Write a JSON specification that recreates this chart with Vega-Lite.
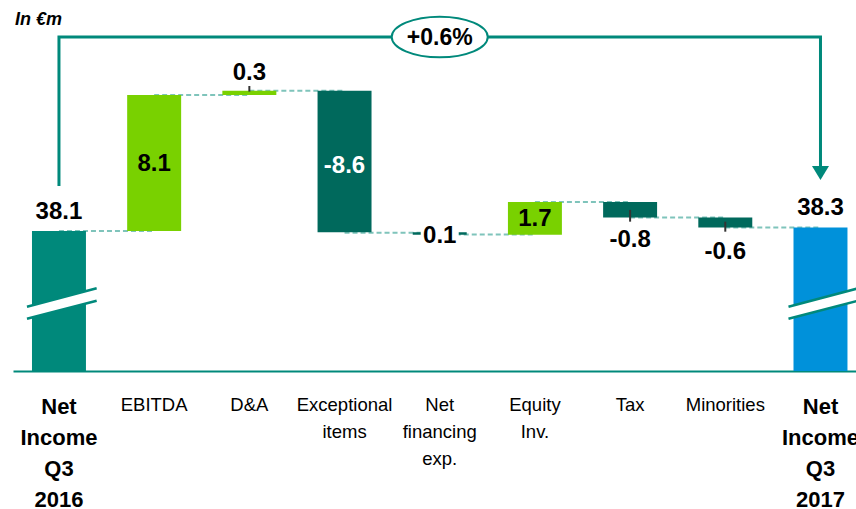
{
  "$schema": "https://vega.github.io/schema/vega-lite/v6.json",
  "width": 843,
  "height": 371,
  "autosize": {"type": "none"},
  "padding": {"left": 13, "top": 0, "right": 0, "bottom": 138},
  "config": {"view": {"stroke": null}},
  "datasets": {
    "bars": [
      {"cat": "Net|Income|Q3|2016", "kind": "start", "y0": 29.865, "y1": 38.1},
      {"cat": "EBITDA", "kind": "up", "y0": 38.1, "y1": 46.1},
      {"cat": "D&A", "kind": "up", "y0": 46.1, "y1": 46.35},
      {"cat": "Exceptional|items", "kind": "down", "y0": 46.35, "y1": 38.02},
      {"cat": "Net|financing|exp.", "kind": "down", "y0": 38.02, "y1": 37.88},
      {"cat": "Equity|Inv.", "kind": "up", "y0": 37.88, "y1": 39.8},
      {"cat": "Tax", "kind": "down", "y0": 39.8, "y1": 38.9},
      {"cat": "Minorities", "kind": "down", "y0": 38.9, "y1": 38.3},
      {"cat": "Net|Income|Q3|2017", "kind": "end", "y0": 29.865, "y1": 38.3}
    ],
    "links": [
      {"cat": "Net|Income|Q3|2016", "to": "EBITDA", "lvl": 38.1},
      {"cat": "EBITDA", "to": "D&A", "lvl": 46.1},
      {"cat": "D&A", "to": "Exceptional|items", "lvl": 46.35},
      {"cat": "Exceptional|items", "to": "Net|financing|exp.", "lvl": 38.0},
      {"cat": "Net|financing|exp.", "to": "Equity|Inv.", "lvl": 37.9},
      {"cat": "Equity|Inv.", "to": "Tax", "lvl": 39.8},
      {"cat": "Tax", "to": "Minorities", "lvl": 38.9},
      {"cat": "Minorities", "to": "Net|Income|Q3|2017", "lvl": 38.3}
    ],
    "labels": [
      {"cat": "Net|Income|Q3|2016", "txt": "38.1", "ly": 39.2, "tone": "dark"},
      {"cat": "EBITDA", "txt": "8.1", "ly": 42.02, "tone": "dark"},
      {"cat": "D&A", "txt": "0.3", "ly": 47.4, "tone": "dark"},
      {"cat": "Exceptional|items", "txt": "-8.6", "ly": 41.9, "tone": "light"},
      {"cat": "Net|financing|exp.", "txt": "0.1", "ly": 37.79, "tone": "dark"},
      {"cat": "Equity|Inv.", "txt": "1.7", "ly": 38.79, "tone": "dark"},
      {"cat": "Tax", "txt": "-0.8", "ly": 37.55, "tone": "dark"},
      {"cat": "Minorities", "txt": "-0.6", "ly": 36.84, "tone": "dark"},
      {"cat": "Net|Income|Q3|2017", "txt": "38.3", "ly": 39.46, "tone": "dark"}
    ],
    "leaders": [
      {"cat": "D&A", "a": 46.63, "b": 46.3},
      {"cat": "Tax", "a": 39.34, "b": 38.65},
      {"cat": "Minorities", "a": 38.65, "b": 38.06}
    ],
    "bracket": [
      {"cat": "Net|Income|Q3|2016", "yb": 40.75, "ord": 1},
      {"cat": "Net|Income|Q3|2016", "yb": 49.51, "ord": 2},
      {"cat": "Net|Income|Q3|2017", "yb": 49.51, "ord": 3},
      {"cat": "Net|Income|Q3|2017", "yb": 41.92, "ord": 4}
    ],
    "arrow": [{"cat": "Net|Income|Q3|2017", "yb": 41.51}],
    "badge": [{"cat": "Net|financing|exp.", "yb": 49.51, "ty": 49.43, "txt": "+0.6%"}],
    "breaks": [
      {"cat": "Net|Income|Q3|2016", "yb": 33.835},
      {"cat": "Net|Income|Q3|2017", "yb": 33.835}
    ],
    "unit": [{"cat": "Net|Income|Q3|2016", "yb": 50.5, "txt": "In €m"}],
    "whitebox": [{"cat": "Net|financing|exp.", "a": 37.69, "b": 38.22}]
  },
  "resolve": {"axis": {"x": "independent"}},
  "layer": [
    {
      "data": {"name": "links"},
      "mark": {"type": "rule", "stroke": "#7FC4BB", "strokeWidth": 2, "strokeDash": [5, 3]},
      "encoding": {
        "x": {"field": "cat", "type": "nominal", "scale": {"type": "band", "domain": ["Net|Income|Q3|2016","EBITDA","D&A","Exceptional|items","Net|financing|exp.","Equity|Inv.","Tax","Minorities","Net|Income|Q3|2017"], "paddingInner": 0.433, "paddingOuter": 0.1445, "align": 0.69},
          "axis": {"orient": "bottom", "title": null, "labelAngle": 0, "labelExpr": "indexof(datum.label, 'Net|Income') === 0 ? split(datum.label, '|') : ''", "labelFont": "Liberation Sans", "labelFontWeight": "bold", "labelFontSize": 22, "labelLineHeight": 31, "labelPadding": 25.4, "labelBaseline": "top", "labelColor": "#000000", "labelOverlap": false, "labelLimit": 0, "ticks": false, "tickSize": 0, "domain": false, "grid": false}},
        "x2": {"field": "to"},
        "y": {"field": "lvl", "type": "quantitative", "scale": {"domain": [29.865, 51.689], "nice": false, "zero": false}, "axis": null}
      }
    },
    {
      "data": {"name": "bars"},
      "mark": {"type": "bar"},
      "encoding": {
        "x": {"field": "cat", "type": "nominal", "scale": {"type": "band", "domain": ["Net|Income|Q3|2016","EBITDA","D&A","Exceptional|items","Net|financing|exp.","Equity|Inv.","Tax","Minorities","Net|Income|Q3|2017"], "paddingInner": 0.433, "paddingOuter": 0.1445, "align": 0.69},
          "axis": {"orient": "bottom", "title": null, "labelAngle": 0, "labelExpr": "indexof(datum.label, 'Net|Income') === 0 ? '' : split(datum.label, '|')", "labelFont": "Liberation Sans", "labelFontSize": 18.5, "labelLineHeight": 27, "labelPadding": 24.5, "labelBaseline": "top", "labelColor": "#000000", "labelOverlap": false, "labelLimit": 0, "ticks": false, "tickSize": 0, "domain": true, "domainColor": "#00897B", "domainWidth": 2, "grid": false}},
        "y": {"field": "y0", "type": "quantitative", "scale": {"domain": [29.865, 51.689], "nice": false, "zero": false}, "axis": null},
        "y2": {"field": "y1"},
        "color": {"field": "kind", "type": "nominal", "scale": {"domain": ["start", "up", "down", "end"], "range": ["#00897B", "#79D100", "#00695C", "#0091DA"]}, "legend": null}
      }
    },
    {
      "data": {"name": "leaders"},
      "mark": {"type": "rule", "stroke": "#333333", "strokeWidth": 2},
      "encoding": {
        "x": {"field": "cat", "type": "nominal", "scale": {"type": "band"}, "axis": null},
        "y": {"field": "a", "type": "quantitative", "scale": {"domain": [29.865, 51.689], "nice": false, "zero": false}, "axis": null},
        "y2": {"field": "b"}
      }
    },
    {
      "data": {"name": "whitebox"},
      "mark": {"type": "bar", "fill": "#ffffff", "width": 38},
      "encoding": {
        "x": {"field": "cat", "type": "nominal", "scale": {"type": "band"}, "axis": null},
        "y": {"field": "a", "type": "quantitative", "scale": {"domain": [29.865, 51.689], "nice": false, "zero": false}, "axis": null},
        "y2": {"field": "b"}
      }
    },
    {
      "data": {"name": "labels"},
      "mark": {"type": "text", "font": "Liberation Sans", "fontWeight": "bold", "fontSize": 24, "align": "center", "baseline": "middle"},
      "encoding": {
        "x": {"field": "cat", "type": "nominal", "scale": {"type": "band"}, "axis": null},
        "y": {"field": "ly", "type": "quantitative", "scale": {"domain": [29.865, 51.689], "nice": false, "zero": false}, "axis": null},
        "text": {"field": "txt"},
        "color": {"condition": {"test": "datum.tone === 'light'", "value": "#ffffff"}, "value": "#000000"}
      }
    },
    {
      "data": {"name": "breaks"},
      "mark": {"type": "point", "shape": "M-0.8,0.08 L0.9425,-0.38 L0.9425,-0.07 L-0.8,0.38 Z", "size": 6400, "filled": true, "fill": "#ffffff", "strokeWidth": 0, "opacity": 1},
      "encoding": {
        "x": {"field": "cat", "type": "nominal", "scale": {"type": "band"}, "axis": null},
        "y": {"field": "yb", "type": "quantitative", "scale": {"domain": [29.865, 51.689], "nice": false, "zero": false}, "axis": null}
      }
    },
    {
      "data": {"name": "breaks"},
      "mark": {"type": "point", "shape": "M-0.8,0.08 L0.9425,-0.38 M-0.8,0.38 L0.9425,-0.07", "size": 6400, "filled": false, "stroke": "#00897B", "strokeWidth": 2.5, "opacity": 1},
      "encoding": {
        "x": {"field": "cat", "type": "nominal", "scale": {"type": "band"}, "axis": null},
        "y": {"field": "yb", "type": "quantitative", "scale": {"domain": [29.865, 51.689], "nice": false, "zero": false}, "axis": null}
      }
    },
    {
      "data": {"name": "bracket"},
      "mark": {"type": "line", "stroke": "#00897B", "strokeWidth": 3, "strokeJoin": "miter"},
      "encoding": {
        "x": {"field": "cat", "type": "nominal", "scale": {"type": "band"}, "axis": null},
        "y": {"field": "yb", "type": "quantitative", "scale": {"domain": [29.865, 51.689], "nice": false, "zero": false}, "axis": null},
        "order": {"field": "ord", "type": "quantitative"}
      }
    },
    {
      "data": {"name": "arrow"},
      "mark": {"type": "point", "shape": "M-1,-0.82 L1,-0.82 L0,0.82 Z", "size": 289, "filled": true, "fill": "#00897B", "strokeWidth": 0, "opacity": 1},
      "encoding": {
        "x": {"field": "cat", "type": "nominal", "scale": {"type": "band"}, "axis": null},
        "y": {"field": "yb", "type": "quantitative", "scale": {"domain": [29.865, 51.689], "nice": false, "zero": false}, "axis": null}
      }
    },
    {
      "data": {"name": "badge"},
      "mark": {"type": "point", "shape": "M-1,0 A1,0.423 0 1,1 1,0 A1,0.423 0 1,1 -1,0 Z", "size": 9216, "filled": true, "fill": "#ffffff", "stroke": "#00897B", "strokeWidth": 2, "opacity": 1},
      "encoding": {
        "x": {"field": "cat", "type": "nominal", "scale": {"type": "band"}, "axis": null},
        "y": {"field": "yb", "type": "quantitative", "scale": {"domain": [29.865, 51.689], "nice": false, "zero": false}, "axis": null}
      }
    },
    {
      "data": {"name": "badge"},
      "mark": {"type": "text", "font": "Liberation Sans", "fontWeight": "bold", "fontSize": 23, "align": "center", "baseline": "middle", "color": "#000000"},
      "encoding": {
        "x": {"field": "cat", "type": "nominal", "scale": {"type": "band"}, "axis": null},
        "y": {"field": "ty", "type": "quantitative", "scale": {"domain": [29.865, 51.689], "nice": false, "zero": false}, "axis": null},
        "text": {"field": "txt"}
      }
    },
    {
      "data": {"name": "unit"},
      "mark": {"type": "text", "font": "Liberation Sans", "fontWeight": "bold", "fontStyle": "italic", "fontSize": 18, "align": "left", "baseline": "middle", "dx": -44, "color": "#000000"},
      "encoding": {
        "x": {"field": "cat", "type": "nominal", "scale": {"type": "band"}, "axis": null},
        "y": {"field": "yb", "type": "quantitative", "scale": {"domain": [29.865, 51.689], "nice": false, "zero": false}, "axis": null},
        "text": {"field": "txt"}
      }
    }
  ]
}
